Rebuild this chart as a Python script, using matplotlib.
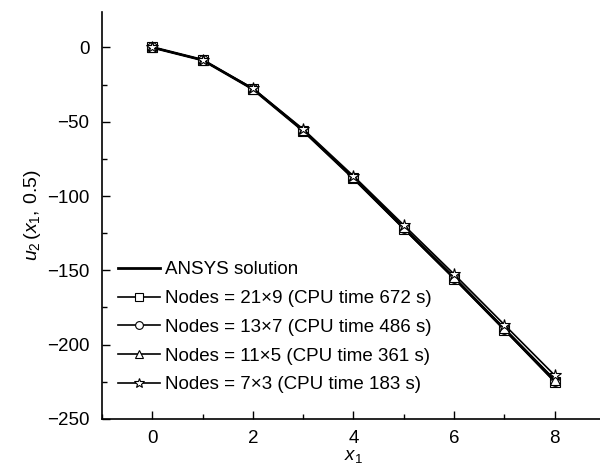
import matplotlib
matplotlib.use("Agg")
import matplotlib.pyplot as plt
from matplotlib.ticker import MultipleLocator

plt.rcParams['font.family'] = ['Liberation Sans', 'DejaVu Sans']
plt.rcParams['mathtext.fontset'] = 'custom'
plt.rcParams['mathtext.rm'] = 'Liberation Sans'
plt.rcParams['mathtext.it'] = 'Liberation Sans:italic'

x1 = [0, 1, 2, 3, 4, 5, 6, 7, 8]
ansys = [0, -8.5, -28, -56, -88, -121.5, -155, -189.5, -224]
nodes_21x9 = [0, -8.5, -28, -56, -88, -122, -155.5, -190, -225]
nodes_13x7 = [0, -8.5, -28, -56, -88, -121.5, -155, -189.5, -224.5]
nodes_11x5 = [0, -8.5, -28, -55.5, -87.5, -121, -154.5, -189, -223.5]
nodes_7x3 = [0, -8.5, -27.5, -55, -86.5, -119.5, -152.5, -186.5, -220.5]

labels = ["ANSYS solution",
          "Nodes = 21×9 (CPU time 672 s)",
          "Nodes = 13×7 (CPU time 486 s)",
          "Nodes = 11×5 (CPU time 361 s)",
          "Nodes = 7×3 (CPU time 183 s)"]

fig = plt.figure(figsize=(6, 4.66), dpi=100)
ax = fig.add_axes([0.17, 0.1009, 0.838, 0.874])

ax.plot(x1, ansys, color='black', lw=2, label=labels[0])
mk = dict(color='black', lw=1.2, markerfacecolor='white', markeredgecolor='black',
          markersize=7, markeredgewidth=0.8)
ax.plot(x1, nodes_21x9, marker='s', label=labels[1], **mk)
ax.plot(x1, nodes_13x7, marker='o', label=labels[2], **mk)
ax.plot(x1, nodes_11x5, marker='^', label=labels[3], **mk)
ax.plot(x1, nodes_7x3, marker='*', label=labels[4], **dict(mk, markersize=9))

ax.set_xlim(-1, 9)
ax.set_ylim(-250, 24)
ax.xaxis.set_major_locator(MultipleLocator(2))
ax.xaxis.set_minor_locator(MultipleLocator(1))
ax.yaxis.set_major_locator(MultipleLocator(50))
ax.yaxis.set_minor_locator(MultipleLocator(25))
ax.tick_params(which='both', direction='in', labelsize=13.5, width=1, top=False, right=False)
ax.tick_params(which='major', length=6)
ax.tick_params(which='minor', length=3.5)
ax.tick_params(axis='y', which='both', pad=9)
ax.tick_params(axis='x', which='both', pad=8)
ax.spines['top'].set_visible(False)
ax.spines['right'].set_visible(False)
ax.spines['left'].set_linewidth(1.2)
ax.spines['bottom'].set_linewidth(1.2)

ax.set_xlabel(r'$x_1$', fontsize=13.5, labelpad=1)
ax.set_ylabel(r'$u_2\,(x_1,\,0.5)$', fontsize=14, labelpad=3)

ax.legend(loc='lower left', frameon=False, fontsize=13.5, handlelength=2.2,
          handletextpad=0.3, labelspacing=0.62, borderaxespad=0.2,
          markerscale=0.8, bbox_to_anchor=(0.01, 0.035))

fig.savefig('out.png', dpi=100)
